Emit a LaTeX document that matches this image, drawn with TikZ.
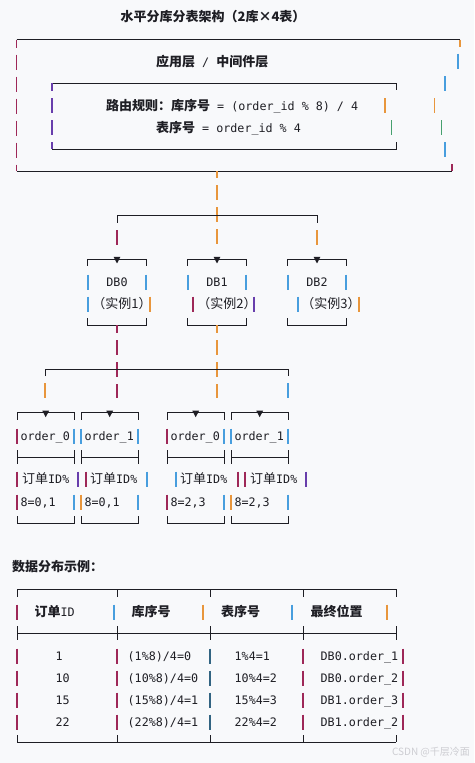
\documentclass[tikz,border=0pt]{standalone}
\usepackage{fontspec}
\setmainfont{DejaVu Sans Mono}
\newfontfamily\cjk{Noto Sans CJK SC}
\usepackage{xcolor}
\definecolor{pagebg}{RGB}{248,249,251}
\definecolor{inkline}{RGB}{30,30,36}
\definecolor{barmaroon}{RGB}{158,40,88}
\definecolor{barpurple}{RGB}{104,62,172}
\definecolor{barorange}{RGB}{232,150,60}
\definecolor{barblue}{RGB}{72,158,222}
\definecolor{bargreen}{RGB}{70,160,110}
\definecolor{barteal}{RGB}{50,100,130}
\definecolor{marktext}{RGB}{205,205,210}
\usetikzlibrary{positioning}
\newcommand{\zh}[1]{{\cjk\fontsize{13}{16}\selectfont #1}}
\newcommand{\zhb}[1]{{\cjk\bfseries\fontsize{13}{16}\selectfont #1}}
\newcommand{\rowbar}[3]{\draw[vbar, #1] (#2,#3-7.5) -- (#2,#3+7.5);}

\begin{document}
\begin{tikzpicture}[x=1pt, y=-1pt,
    hline/.style={draw=inkline, line width=0.9pt},
    vbar/.style={line width=1.3pt},
    sidebar/.style={vbar, dash pattern=on 15pt off 7pt, dash phase=7pt},
    txt/.style={inner sep=0pt, anchor=base west, text=inkline, font=\fontsize{11.7}{14}\selectfont},
    ctxt/.style={txt, anchor=base},
    dbframe/.style={minimum width=58pt, minimum height=66pt, inner sep=0pt},
    tblframe/.style={minimum width=57pt, minimum height=110.3pt, inner sep=0pt, anchor=north west}]
  \useasboundingbox (0,0) rectangle (474,763);
  \fill[pagebg] (0,0) rectangle (474,763);

  % Title
  \node[ctxt] (title) at (213,21.5) {\zhb{水平分库分表架构（2库×4表）}};

  % Application / middleware box
  \draw[hline] (16.5,39.5) -- (460,39.5);
  \draw[sidebar, barmaroon] (16.5,39.5) -- (16.5,171);
  \draw[vbar, barorange] (460,39.5) -- (460,47);
  \rowbar{barblue}{458}{61}
  \rowbar{barblue}{445}{83.5}
  \rowbar{barorange}{434.5}{105.5}
  \rowbar{bargreen}{441.5}{127.5}
  \rowbar{barblue}{445}{149.5}
  \draw[vbar, barmaroon] (452,164) -- (452,171);
  \draw[hline] (16.5,171) -- (452,171);
  \node[txt] (applayer) at (156,66.5) {\zhb{应用层} / \zhb{中间件层}};

  % Routing rule box
  \draw[hline] (52,83) -- (396,83) -- (396,90);
  \draw[hline] (52,149) -- (396,149) -- (396,142);
  \draw[sidebar, barpurple] (52,83) -- (52,149);
  \rowbar{barorange}{385}{105.5}
  \rowbar{bargreen}{391.5}{127.5}
  \node[txt] (rule1) at (106,110.5) {\zhb{路由规则：库序号} = (order\_id \% 8) / 4};
  \node[txt] (rule2) at (156,132.5) {\zhb{表序号} = order\_id \% 4};

  % Database instances
  \foreach \n/\x/\cx/\k in {0/117/122/1, 1/217/227/2, 2/317/331/3} {
    \node[dbframe] (db\n) at (\x,292.15) {};
    \draw[hline] ([yshift=-7pt]db\n.north west) -- (db\n.north west) -- (db\n.north east) -- ([yshift=-7pt]db\n.north east);
    \draw[hline] ([yshift=7pt]db\n.south west) -- (db\n.south west) -- (db\n.south east) -- ([yshift=7pt]db\n.south east);
    \fill[inkline] ([shift={(-3.4,-2)}]db\n.north) -- ([shift={(3.4,-2)}]db\n.north) -- ([shift={(0,4.5)}]db\n.north) -- cycle;
    \node[ctxt] (dbname\n) at (\x,286.5) {DB\n};
    \node[ctxt] (dbinst\n) at (\cx,308.5) {\zh{（实例\k）}};
  }
  \foreach \x/\y/\c in {88/282/barblue, 146/282/barblue, 88/304/barblue, 150/304/barorange,
      188/282/barblue, 246/282/barblue, 193/304/barmaroon, 254/304/barpurple,
      288/282/barblue, 346/282/barblue, 298/304/barblue, 359/304/barorange}
    {\rowbar{\c}{\x}{\y}}

  % Routing to databases
  \coordinate (appout) at (217,171);
  \coordinate (splitL) at (117,215.7);
  \coordinate (splitR) at (317,215.7);
  \draw[vbar, barorange, dash pattern=on 15pt off 7pt, dash phase=8pt] (appout) -- ([yshift=14pt]db1.north);
  \draw[hline] ([yshift=-7pt]splitL) -- (splitL) -- (splitR) -- ([yshift=-7pt]splitR);
  \draw[vbar, barmaroon, shorten <=14.3pt, shorten >=14pt] (splitL) -- (db0.north);
  \draw[vbar, barorange, shorten <=14.3pt, shorten >=14pt] (splitR) -- (db2.north);

  % Tables in each database
  \foreach \n/\x/\tn/\dx/\rg in {t00/17/0/5/{0,1}, t01/81/1/9/{0,1}, t10/167/0/13/{2,3}, t11/231/1/19/{2,3}} {
    \node[tblframe] (\n) at (\x,412.7) {};
    \draw[hline] ([yshift=-7pt]\n.north west) -- (\n.north west) -- (\n.north east) -- ([yshift=-7pt]\n.north east);
    \draw[hline] ([yshift=7pt]\n.south west) -- (\n.south west) -- (\n.south east) -- ([yshift=7pt]\n.south east);
    \draw[hline] (\x,457) -- (\x+57,457) (\x,450) -- (\x,464) (\x+57,450) -- (\x+57,464);
    \fill[inkline] ([shift={(-3.4,-2)}]\n.north) -- ([shift={(3.4,-2)}]\n.north) -- ([shift={(0,4.5)}]\n.north) -- cycle;
    \node[txt] (\n name) at (\x+3.3,440.5) {order\_\tn};
    \node[txt] (\n key) at (\x+\dx,483.5) {\zh{订单}ID\%};
    \node[txt] (\n range) at (\x+3.3,506.5) {8=\rg};
  }
  \foreach \x/\y/\c in {17/436/barmaroon, 74/436/barblue, 81/436/barblue, 138/436/barblue,
      167/436/barmaroon, 224/436/barblue, 231/436/barblue, 288/436/barblue,
      17/479/barmaroon, 78/479/barpurple, 86/479/barmaroon, 147/479/barblue,
      176/479/barblue, 238/479/barmaroon, 245/479/barmaroon, 306/479/barpurple,
      17/502/barmaroon, 74/502/barblue, 81/502/barorange, 138/502/barblue,
      167/502/barmaroon, 224/502/barblue, 231/502/barorange, 288/502/barblue}
    {\rowbar{\c}{\x}{\y}}

  % Routing to tables
  \coordinate (drop0) at (117,398);
  \coordinate (drop1) at (217,398);
  \coordinate (split2L) at (45,369);
  \coordinate (split2R) at (288,369);
  \draw[vbar, barmaroon, dash pattern=on 15pt off 7pt, dash phase=7pt] (db0.south) -- (drop0);
  \draw[vbar, barorange, dash pattern=on 15pt off 7pt, dash phase=7pt] (db1.south) -- (drop1);
  \draw[hline] ([yshift=-7pt]split2L) -- (split2L) -- (split2R) -- ([yshift=-7pt]split2R);
  \draw[vbar, barorange] ([yshift=-14pt]split2L) -- ([yshift=-29pt]split2L);
  \draw[vbar, barblue] ([yshift=-14pt]split2R) -- ([yshift=-29pt]split2R);

  % Data distribution example
  \node[txt] (example) at (12,571.5) {\zhb{数据分布示例：}};
  \draw[hline] (17,589) -- (396,589);
  \draw[hline] (17,633) -- (396,633);
  \draw[hline] (17,742) -- (396,742);
  \foreach \x in {17,117,210,303,396}
    \draw[hline] (\x,589) -- (\x,597) (\x,626) -- (\x,640) (\x,735) -- (\x,742);
  \foreach \x/\c in {17/barmaroon, 114/barblue, 203/barorange, 292/barblue, 387/barorange}
    {\rowbar{\c}{\x}{612}}
  \foreach \y in {656,678,700,722}
    \foreach \x/\c in {17/barmaroon, 117/barmaroon, 210/barteal, 303/barmaroon, 403/barmaroon}
      {\rowbar{\c}{\x}{\y}}

  \node[txt] (hid) at (34.5,616.5) {\zhb{订单}ID};
  \node[ctxt] (hdb) at (151,616.5) {\zhb{库序号}};
  \node[ctxt] (htb) at (240.5,616.5) {\zhb{表序号}};
  \node[ctxt] (hloc) at (336.5,616.5) {\zhb{最终位置}};

  \foreach \r/\y/\id/\dbn/\tbn/\loc in {
      1/656/1/{(1\%8)/4=0}/{1\%4=1}/{DB0.order\_1},
      2/678/10/{(10\%8)/4=0}/{10\%4=2}/{DB0.order\_2},
      3/700/15/{(15\%8)/4=1}/{15\%4=3}/{DB1.order\_3},
      4/722/22/{(22\%8)/4=1}/{22\%4=2}/{DB1.order\_2}} {
    \node[txt] (id\r) at (55.5,\y+4.5) {\id};
    \node[txt] (dbn\r) at (127.5,\y+4.5) {\dbn};
    \node[txt] (tbn\r) at (234.5,\y+4.5) {\tbn};
    \node[txt] (loc\r) at (320.5,\y+4.5) {\loc};
  }

  % Watermark
  \node[ctxt, text=marktext, font=\cjk\fontsize{10}{12}\selectfont] (mark) at (431,755) {CSDN @千层冷面};
\end{tikzpicture}
\end{document}
